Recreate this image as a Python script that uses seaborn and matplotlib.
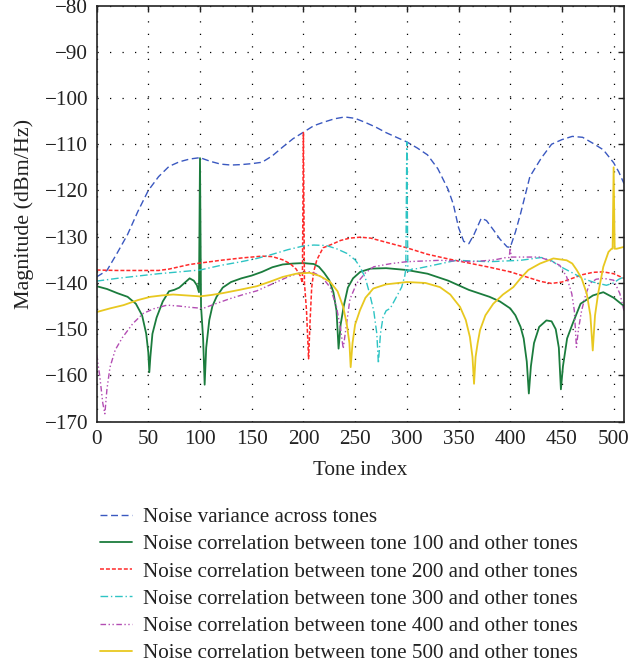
import numpy as np
import pandas as pd
import matplotlib
matplotlib.use("Agg")
import matplotlib.pyplot as plt
import seaborn as sns

# ---- data: magnitude (dBm/Hz) versus tone index ----
var_x = [0, 10, 20, 30, 40, 50, 60, 70, 80, 90, 100, 110, 120, 130, 140, 150, 160, 170,
         180, 190, 200, 210, 220, 230, 240, 250, 260, 270, 280, 290, 300, 310, 320, 330,
         340, 345, 350, 355, 360, 365, 372, 377, 384, 390, 397, 400, 405, 410, 419, 430,
         440, 450, 460, 470, 480, 490, 500, 505, 510]
var_y = [-138.7, -137.3, -133.5, -129.5, -124.5, -120.0, -117.0, -114.8, -113.8, -113.2,
         -112.9, -113.7, -114.3, -114.5, -114.4, -114.2, -113.9, -112.5, -110.6, -108.8,
         -107.4, -106.0, -105.2, -104.5, -104.1, -104.4, -105.3, -106.3, -107.5, -108.5,
         -109.5, -110.8, -112.3, -115.3, -119.8, -123.0, -128.0, -131.0, -131.5, -129.5,
         -126.0, -126.5, -128.6, -130.5, -132.2, -132.3, -129.0, -125.0, -117.0, -113.0,
         -110.0, -109.0, -108.3, -108.5, -109.8, -111.2, -114.0, -116.0, -118.5]

t100_x = [0, 10, 20, 30, 38, 44, 48, 50, 51, 52, 54, 58, 64, 70, 75, 80, 85, 90, 94, 97,
          99, 100, 101, 103, 104.5, 106, 109, 112, 116, 122, 130, 140, 150, 160, 170, 180,
          190, 200, 210, 215, 220, 225, 229, 232, 234, 236, 239, 243, 248, 255, 265, 280,
          300, 320, 340, 360, 380, 390, 400, 405, 410, 413, 416, 418, 420, 423, 428, 435,
          440, 444, 447, 449, 451, 455, 460, 468, 480, 490, 500, 510]
t100_y = [-140.7, -141.3, -142.2, -143.0, -144.5, -147.0, -151.0, -155.0, -159.3, -156.0,
          -151.0, -147.5, -144.0, -141.8, -141.5, -141.0, -140.0, -139.0, -139.5, -140.5,
          -142.0, -113.0, -145.0, -152.0, -162.0, -154.0, -148.0, -145.0, -143.0, -141.0,
          -139.8, -139.0, -138.4, -137.6, -136.6, -136.0, -135.8, -135.7, -135.9, -136.5,
          -137.8, -139.4, -142.0, -146.0, -154.2, -149.0, -145.0, -141.0, -139.0, -137.6,
          -136.9, -136.8, -137.2, -138.0, -139.5, -141.5, -143.0, -144.0, -145.5, -147.0,
          -149.5, -152.0, -157.0, -163.9, -158.0, -153.0, -149.5, -148.1, -148.3, -150.0,
          -154.0, -163.0, -158.0, -152.0, -149.0, -144.5, -142.7, -142.0, -143.2, -145.0]

t200_x = [0, 20, 40, 60, 70, 80, 90, 100, 120, 140, 160, 170, 180, 187, 193, 197, 199,
          200, 201, 203, 205, 206.5, 208, 210, 213, 219, 229, 236, 245, 255, 265, 280,
          300, 320, 340, 360, 380, 400, 420, 430, 440, 450, 460, 470, 480, 490, 500, 510]
t200_y = [-137.2, -137.3, -137.3, -137.3, -137.0, -136.5, -136.0, -135.7, -135.1, -134.6,
          -134.2, -134.3, -135.0, -135.8, -137.0, -138.5, -140.0, -107.5, -140.0, -146.0,
          -156.4, -148.0, -141.0, -137.5, -135.0, -132.4, -131.5, -130.8, -130.3, -130.1,
          -130.3, -131.2, -132.4, -133.8, -134.8, -135.7, -136.6, -137.6, -139.0, -139.7,
          -140.1, -139.8, -139.0, -138.2, -137.7, -137.6, -138.0, -139.0]

t300_x = [0, 20, 40, 60, 80, 100, 120, 140, 155, 170, 185, 200, 210, 222, 232, 242, 250,
          255, 260, 264, 268, 271, 272.5, 274.5, 277, 280, 284, 290, 295, 298, 299, 300,
          301, 305, 310, 325, 348, 380, 410, 430, 440, 448, 460, 470, 480, 493, 500, 505, 510]
t300_y = [-139.6, -139.0, -138.5, -138.0, -137.6, -137.2, -136.2, -135.4, -134.7, -133.8,
          -132.8, -132.0, -131.8, -131.9, -132.6, -133.6, -135.0, -136.6, -139.0, -142.3,
          -146.0, -151.0, -157.4, -151.0, -147.4, -146.0, -145.5, -143.0, -140.9, -138.5,
          -137.0, -109.5, -137.5, -137.0, -136.9, -136.2, -135.1, -135.4, -135.1, -134.5,
          -135.2, -136.4, -137.8, -139.0, -139.8, -140.5, -140.0, -139.2, -138.7]

t400_x = [0, 3, 6, 8, 10, 13, 18, 25, 35, 45, 55, 68, 80, 92, 103, 115, 129, 142, 155,
          165, 174, 185, 193.5, 200, 206, 212, 219, 226, 232, 236, 238.5, 241, 245, 251.5,
          260, 268, 285, 300, 332, 364, 385, 396, 399, 400, 401, 410, 428, 440, 448, 454.6,
          459.5, 462, 464, 466, 469, 473, 477, 483, 490, 500, 506, 510]
t400_y = [-155.5, -160.0, -166.0, -168.3, -163.0, -158.2, -154.5, -151.8, -148.8, -146.6,
          -145.6, -144.8, -145.0, -145.3, -145.5, -144.5, -143.4, -142.5, -141.7, -140.7,
          -139.8, -138.7, -138.0, -137.7, -137.6, -138.0, -139.0, -141.0, -145.2, -150.0,
          -154.2, -150.0, -143.5, -140.1, -137.8, -136.5, -135.8, -135.4, -135.1, -135.4,
          -135.0, -134.5, -134.5, -132.4, -134.4, -134.4, -134.4, -135.3, -136.2, -138.7,
          -142.3, -146.0, -153.9, -150.0, -146.0, -142.5, -140.1, -139.2, -139.0, -139.4,
          -142.3, -146.0]

t500_x = [0, 13, 26, 40, 52, 63, 74, 87, 100, 111, 122, 138, 155, 168, 180, 193, 206,
          216, 226, 233, 238.5, 242, 244.5, 245.7, 247.5, 250, 254.7, 260, 267.6, 280, 300,
          318, 332, 342, 351.5, 357, 361, 363.5, 365, 366.5, 368.5, 370.8, 376, 383.6, 393,
          403, 410, 417.5, 428.8, 441.7, 454.6, 460, 464.3, 469, 474, 477.5, 479.8, 482,
          485, 490, 495, 498, 499, 500, 501, 503, 510]
t500_y = [-146.3, -145.5, -144.8, -143.7, -143.0, -142.7, -142.5, -142.7, -142.9, -142.6,
          -142.2, -141.5, -140.7, -139.7, -138.7, -138.0, -137.8, -138.5, -139.8, -141.8,
          -145.2, -149.0, -153.0, -158.2, -153.0, -149.0, -145.9, -143.2, -141.2, -140.3,
          -139.8, -140.0, -140.9, -142.5, -145.2, -148.0, -151.7, -156.0, -161.8, -156.0,
          -153.0, -150.2, -147.0, -144.5, -142.5, -140.9, -139.0, -137.2, -135.8, -134.7,
          -135.1, -135.8, -137.2, -139.0, -142.3, -147.0, -154.6, -147.0, -142.3, -136.5,
          -133.3, -132.6, -132.6, -115.0, -132.6, -132.6, -132.2]

labels = [
    "Noise variance across tones",
    "Noise correlation between tone 100 and other tones",
    "Noise correlation between tone 200 and other tones",
    "Noise correlation between tone 300 and other tones",
    "Noise correlation between tone 400 and other tones",
    "Noise correlation between tone 500 and other tones",
]
series = [(var_x, var_y), (t100_x, t100_y), (t200_x, t200_y),
          (t300_x, t300_y), (t400_x, t400_y), (t500_x, t500_y)]

x_ticks = list(range(0, 501, 50))
y_ticks = list(range(-170, -79, 10))

# ---- styling ----
sns.set_style("white")
plt.rcParams["font.family"] = ["Liberation Serif", "DejaVu Serif"]
plt.rcParams["axes.unicode_minus"] = True
FS = 15.2
TXT = "#222222"

styles = [
    dict(color="#3a58c0", lw=1.0, ls=(0, (5.0, 2.6))),
    dict(color="#1b7c3d", lw=1.3, ls="-"),
    dict(color="#ff2a2a", lw=1.1, ls=(0, (2.6, 1.3))),
    dict(color="#2ec4c4", lw=1.0, ls=(0, (5.5, 2.0, 1.0, 2.0))),
    dict(color="#b34db3", lw=1.0, ls=(0, (4.0, 1.8, 1.0, 1.8, 1.0, 1.8))),
    dict(color="#e8c820", lw=1.3, ls="-"),
]

fig = plt.figure(figsize=(6.28, 6.65), dpi=100)
ax = fig.add_axes([0.1538, 0.3659, 0.8398, 0.6258])

for (xs, ys), lab, st in zip(series, labels, styles):
    df = pd.DataFrame({"tone": xs, "mag": ys})
    sns.lineplot(data=df, x="tone", y="mag", ax=ax, color=st["color"],
                 linewidth=st["lw"], linestyle=st["ls"], label=lab,
                 estimator=None, errorbar=None)

ax.set_xlim(0, 510)
ax.set_ylim(-170, -80)
ax.set_xticks(x_ticks)
ax.set_yticks(y_ticks)
ax.grid(True, color="black", linewidth=0.9, linestyle=(0, (1.0, 9.0)))
ax.tick_params(direction="in", length=4, width=1.0, top=True, right=True,
               labelsize=FS, colors=TXT, pad=6)
for sp in ax.spines.values():
    sp.set_linewidth(1.2)
    sp.set_color(TXT)

ax.set_xlabel("Tone index", fontsize=FS, color=TXT, labelpad=8.5)
ax.set_ylabel("Magnitude (dBm/Hz)", fontsize=15.8, color=TXT, labelpad=8)

handles, labs = ax.get_legend_handles_labels()
ax.get_legend().remove()
fig.legend(handles, labs, loc="upper left", bbox_to_anchor=(0.1592, 0.2368),
           bbox_transform=fig.transFigure, frameon=False, fontsize=FS,
           handlelength=1.52, handletextpad=0.52, labelspacing=0.35,
           borderpad=0, borderaxespad=0, labelcolor=TXT)

fig.savefig("out.png", dpi=100)
